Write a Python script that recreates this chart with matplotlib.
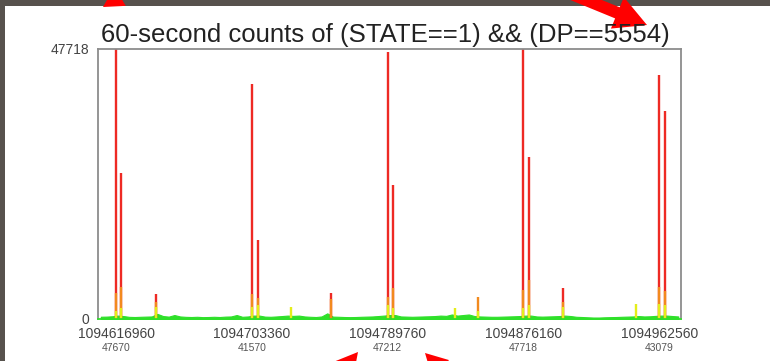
"""
60-second counts of (STATE==1) && (DP==5554) - spike plot over ~4 days
"""

import numpy as np
import matplotlib; matplotlib.use("Agg")
import matplotlib.pyplot as plt
from matplotlib.patches import Polygon, Rectangle

W, H = 770, 361

# --- data --------------------------------------------------------------
T_LEFT = 1094605500
T_RIGHT = 1094976240
BIN_S = 3600

day_ticks = [1094616960, 1094703360, 1094789760, 1094876160, 1094962560]
day_max = [47670, 41570, 47212, 47718, 43079]

spike_t = [1094616960, 1094620320, 1094642400, 1094703420, 1094707020,
           1094728200, 1094753640, 1094789700, 1094793240, 1094832300,
           1094846940, 1094875920, 1094879340, 1094900940, 1094947560,
           1094962200, 1094965800]
spike_red = [47670, 25800, 4420, 41570, 13960, 0, 4600, 47212, 23680, 0,
             0, 47718, 28680, 5480, 0, 43079, 36810]
spike_orange = [4600, 5650, 3000, 4400, 3700, 0, 3500, 3900, 5500, 0,
                3900, 5100, 6900, 3000, 0, 5650, 5000]
spike_yellow = [1500, 2000, 2100, 2100, 2500, 2100, 0, 2470, 2000, 2000,
                1500, 2000, 2500, 2100, 2650, 2700, 2500]

# hourly baseline (green)
baseline = [400, 420, 480, 600, 520, 380, 350, 390, 420, 450,
            900, 520, 420, 700, 450, 380, 350, 390, 330, 350,
            390, 350, 420, 450, 700, 390, 450, 600, 600, 420,
            390, 450, 520, 600, 550, 600, 450, 390, 350, 450,
            1000, 420, 390, 350, 330, 350, 390, 420, 450, 520,
            600, 700, 700, 450, 420, 390, 420, 450, 480, 520,
            600, 550, 800, 600, 700, 800, 520, 450, 420, 390,
            390, 420, 450, 480, 520, 600, 600, 450, 420, 450,
            480, 520, 600, 520, 390, 350, 300, 260, 260, 300,
            330, 350, 390, 420, 450, 520, 450, 480, 550, 600,
            600, 520, 450]

RED, ORANGE, YELLOW, GREEN = "#ee2a24", "#f28a1e", "#e4ee1a", "#2fe02a"
FONT = ["Liberation Sans", "DejaVu Sans"]


def px(x, y):
    return (x / W, 1 - y / H)


def arrow_poly(x0, y0, x1, y1, w, hw, hl):
    """arrow polygon in pixel coords (y down)"""
    d = np.array([x1 - x0, y1 - y0], float)
    L = np.hypot(*d); u = d / L; n = np.array([-u[1], u[0]])
    p0 = np.array([x0, y0], float); p1 = np.array([x1, y1], float)
    b = p1 - u * hl
    pts = [p0 + n*w/2, b + n*w/2, b + n*hw/2, p1, b - n*hw/2, b - n*w/2, p0 - n*w/2]
    return [px(*p) for p in pts]


fig = plt.figure(figsize=(W/100, H/100), dpi=100)
fig.patch.set_facecolor("white")

ax = fig.add_axes([98/W, (H-319)/H, (681-98)/W, (319-49)/H])

ax.vlines(spike_t, 0, spike_red, color=RED, lw=1.7)
ax.vlines(spike_t, 0, spike_orange, color=ORANGE, lw=1.7)
ax.vlines(spike_t, 0, spike_yellow, color=YELLOW, lw=1.7)
centers = T_LEFT + BIN_S * (np.arange(len(baseline)) + 0.5)
ax.fill_between(centers, 0, baseline, color=GREEN, lw=0.8, edgecolor=GREEN)

ax.set_xlim(T_LEFT, T_RIGHT)
ax.set_ylim(0, 47718)
for s in ax.spines.values():
    s.set_color("#8c8c8c"); s.set_linewidth(1.3)
ax.spines["bottom"].set_color(GREEN)

ax.set_xticks(day_ticks)
ax.set_xticklabels([str(t) for t in day_ticks], fontsize=10, color="#444444",
                   family=FONT)
ax.set_yticks([0, 47718])
ax.set_yticklabels(["0", "47718"], fontsize=10, color="#444444", family=FONT)
ax.tick_params(length=0, pad=6)
ax.tick_params(axis="x", pad=5.5)
ax.get_yticklabels()[0].set_y(0)
for t, m in zip(day_ticks, day_max):
    ax.annotate(str(m), xy=(t, 0), xycoords=("data", "axes fraction"),
                xytext=(0, -21), textcoords="offset points", ha="center",
                va="center", fontsize=7.5, color="#555555", family=FONT)

fig.text(385/W, 1 - 42/H, "60-second counts of (STATE==1) && (DP==5554)",
         ha="center", va="baseline", fontsize=18.5, color="#222222", family=FONT)

# slide border
fig.add_artist(Rectangle((0, 1 - 6/H), 1, 6/H, transform=fig.transFigure,
                         color="#57524d", lw=0))
fig.add_artist(Rectangle((0, 0), 5/W, 1, transform=fig.transFigure,
                         color="#57524d", lw=0))

# red pointer arrows
for a in [(150, -22, 103, 7, 9, 22, 20),
          (552, -14, 647, 25, 12, 34, 32),
          (335, 380, 358, 352, 9, 24, 22),
          (452, 380, 425, 353, 9, 24, 22)]:
    fig.add_artist(Polygon(arrow_poly(*a), closed=True, color="#ff0000",
                           lw=0, transform=fig.transFigure))

fig.savefig("out.png", dpi=100)
